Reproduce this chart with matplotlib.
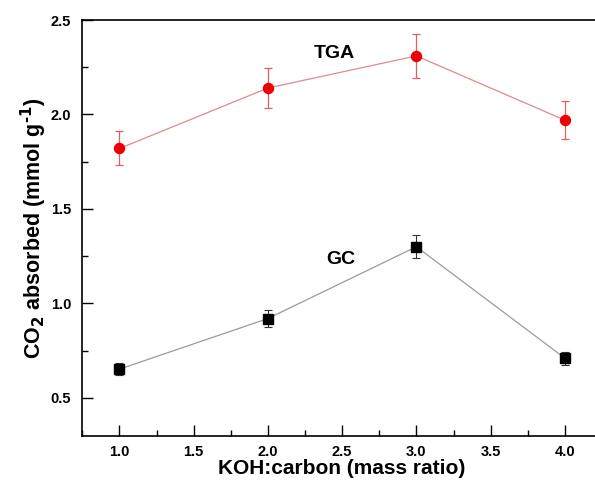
import numpy as np
import matplotlib.pyplot as plt
from matplotlib.ticker import MultipleLocator

plt.rcParams['font.family'] = ['Liberation Sans', 'DejaVu Sans']
plt.rcParams['font.weight'] = 'bold'
plt.rcParams['mathtext.default'] = 'bf'

# data
ratio = [1.0, 2.0, 3.0, 4.0]
tga = [1.82, 2.14, 2.31, 1.97]
tga_err = [0.09, 0.107, 0.115, 0.10]
gc = [0.652, 0.92, 1.30, 0.71]
gc_err = [0.032, 0.045, 0.06, 0.035]

fig = plt.figure(figsize=(5.95, 4.82), dpi=100)
ax = fig.add_axes([0.1383, 0.0961, 0.8735, 0.8624])

ax.errorbar(ratio, tga, yerr=tga_err, color='#e08a8a', lw=0.9,
            marker='o', ms=7.2, mfc='#ee0000', mec='#ee0000',
            ecolor='#e06060', elinewidth=0.9, capsize=2.8, capthick=0.9)
ax.errorbar(ratio, gc, yerr=gc_err, color='#9a9a9a', lw=0.9,
            marker='s', ms=6.6, mfc='black', mec='black',
            ecolor='#333333', elinewidth=0.8, capsize=2.8, capthick=0.8)

ax.text(2.45, 2.325, 'TGA', fontsize=14, fontweight='bold', ha='center', va='center')
ax.text(2.49, 1.23, 'GC', fontsize=14, fontweight='bold', ha='center', va='center')

ax.set_xlim(0.75, 4.25)
ax.set_ylim(0.3, 2.5)
ax.xaxis.set_major_locator(MultipleLocator(0.5))
ax.xaxis.set_minor_locator(MultipleLocator(0.25))
ax.yaxis.set_major_locator(MultipleLocator(0.5))
ax.yaxis.set_minor_locator(MultipleLocator(0.25))
ax.tick_params(which='both', direction='in', labelsize=10.5, width=1.0)
ax.tick_params(which='major', length=8)
ax.tick_params(which='minor', length=4)
ax.tick_params(axis='x', pad=7)
ax.tick_params(axis='y', pad=8)
for s in ax.spines.values():
    s.set_linewidth(1.2)
for lab in ax.get_xticklabels() + ax.get_yticklabels():
    lab.set_fontweight('bold')

ax.set_xlabel('KOH:carbon (mass ratio)', fontsize=15, fontweight='bold', labelpad=0)
ax.set_ylabel(r'CO$_2$ absorbed (mmol g$^{\text{-1}}$)', fontsize=15.5,
              fontweight='bold', labelpad=1)

fig.savefig('out.png', dpi=100)
